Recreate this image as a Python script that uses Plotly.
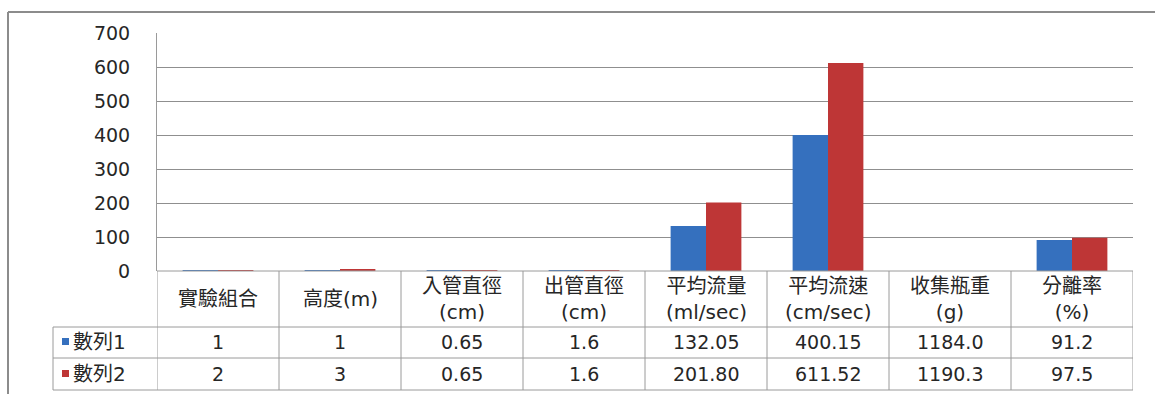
import plotly.graph_objects as go

# ---- data ----
categories = ["實驗組合", "高度(m)", "入管直徑", "出管直徑", "平均流量", "平均流速", "收集瓶重", "分離率"]
units = ["", "", "(cm)", "(cm)", "(ml/sec)", "(cm/sec)", "(g)", "(%)"]
series_names = ["數列1", "數列2"]
series1 = [1, 1, 0.65, 1.6, 132.05, 400.15, 1184.0, 91.2]
series2 = [2, 3, 0.65, 1.6, 201.80, 611.52, 1190.3, 97.5]
decimals = [0, 0, 2, 1, 2, 2, 1, 1]
hidden_in_chart = ["收集瓶重"]  # column not drawn as bars in the original chart
y_ticks = [0, 100, 200, 300, 400, 500, 600, 700]

colors = ["#3570BE", "#BE3636"]
W, H = 1155, 394
FONT = "DejaVu Sans, Noto Sans CJK TC, sans-serif"
TXT = "#262626"
LINE = "#9a9a9a"


def px(x):
    return x / W


def py(y):
    return 1 - y / H


fig = go.Figure()
for name, vals, col in zip(series_names, [series1, series2], colors):
    yv = [None if c in hidden_in_chart else v for c, v in zip(categories, vals)]
    fig.add_trace(go.Bar(x=categories, y=yv, name=name, marker=dict(color=col, line=dict(width=0)),
                         showlegend=False))

shapes = []
# outer chart frame (left and top edges)
shapes.append(dict(type="line", xref="paper", yref="paper", x0=px(8), x1=px(8), y0=py(12), y1=0,
                   line=dict(color="#8c8c8c", width=2)))
shapes.append(dict(type="line", xref="paper", yref="paper", x0=px(8), x1=1, y0=py(12), y1=py(12),
                   line=dict(color="#8c8c8c", width=2)))
# table horizontal lines
for yy in [327, 358, 390]:
    shapes.append(dict(type="line", xref="paper", yref="paper", x0=px(53), x1=px(1133), y0=py(yy), y1=py(yy),
                       line=dict(color=LINE, width=1)))
shapes.append(dict(type="line", xref="paper", yref="paper", x0=px(157), x1=px(1133), y0=py(271), y1=py(271),
                   line=dict(color=LINE, width=1)))
# table vertical lines (category boundaries)
for i in range(len(categories) + 1):
    shapes.append(dict(type="line", xref="x", yref="paper", x0=i - 0.5, x1=i - 0.5, y0=py(271), y1=py(390),
                       line=dict(color=LINE, width=1)))
shapes.append(dict(type="line", xref="paper", yref="paper", x0=px(53), x1=px(53), y0=py(327), y1=py(390),
                   line=dict(color=LINE, width=1)))

annotations = []
# header row
for c, u in zip(categories, units):
    text = c if not u else c + "<br>" + u
    annotations.append(dict(x=c, xref="x", y=py(299), yref="paper", text=text, showarrow=False,
                            font=dict(family=FONT, size=20, color=TXT), xanchor="center", yanchor="middle"))
# data rows with legend keys
row_centers = [342, 374]
for name, vals, col, rc in zip(series_names, [series1, series2], colors, row_centers):
    shapes.append(dict(type="rect", xref="paper", yref="paper", x0=px(62), x1=px(69), y0=py(rc - 4), y1=py(rc + 3),
                       fillcolor=col, line=dict(width=0)))
    annotations.append(dict(x=px(71), xref="paper", y=py(rc), yref="paper", text=name, showarrow=False,
                            font=dict(family=FONT, size=20, color=TXT), xanchor="left", yanchor="middle"))
    for c, v, d in zip(categories, vals, decimals):
        annotations.append(dict(x=c, xref="x", y=py(rc), yref="paper", text=f"{v:.{d}f}", showarrow=False,
                                font=dict(family=FONT, size=19, color=TXT), xanchor="center", yanchor="middle"))

fig.update_layout(
    width=W, height=H,
    margin=dict(l=0, r=0, t=0, b=0, pad=0),
    paper_bgcolor="white", plot_bgcolor="white",
    barmode="group", bargap=0.42, bargroupgap=0,
    xaxis=dict(domain=[px(157), px(1133)], range=[-0.5, len(categories) - 0.5], showticklabels=False,
               showgrid=False, zeroline=False, showline=False, ticks="", automargin=False),
    yaxis=dict(domain=[py(271), py(33)], range=[0, 700], tickvals=y_ticks, showgrid=True,
               gridcolor="#8f8f8f", gridwidth=1, zeroline=False, showline=True, linecolor=LINE, linewidth=1,
               ticks="outside", ticklen=22, tickcolor="rgba(0,0,0,0)", automargin=False,
               tickfont=dict(family=FONT, size=19, color=TXT)),
    shapes=shapes,
    annotations=annotations,
    font=dict(family=FONT),
)

fig.write_html("out.html", config={"displayModeBar": False},
               post_script="document.body.style.margin='0px';document.body.style.overflow='hidden';")
